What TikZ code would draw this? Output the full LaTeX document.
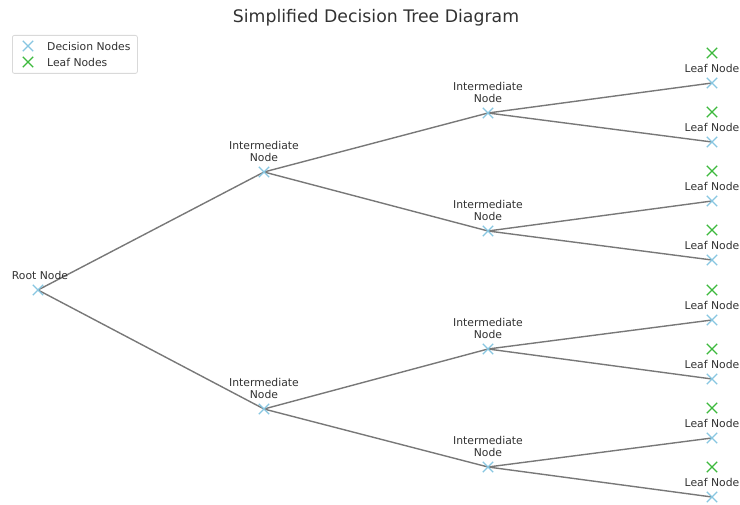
\documentclass[tikz,border=0pt]{standalone}
\usepackage{fontspec}
\setmainfont{DejaVu Sans}
\usetikzlibrary{shapes.misc,calc}
\definecolor{decblue}{RGB}{135,198,225}
\definecolor{leafgreen}{RGB}{60,185,60}
\definecolor{edgegray}{RGB}{120,120,120}
\definecolor{txtgray}{RGB}{50,50,50}
\tikzset{
  decx/.style={cross out, draw=decblue, line width=1.3pt, minimum size=9pt, inner sep=0pt},
  leafx/.style={cross out, draw=leafgreen, line width=1.3pt, minimum size=9pt, inner sep=0pt},
  edge/.style={draw=edgegray, line width=1.4pt},
  lbl/.style={font=\fontsize{10.8}{12.5}\selectfont, text=txtgray, align=center, anchor=south, inner sep=0pt}
}
\begin{document}
\begin{tikzpicture}[x=1pt,y=-1pt]
\useasboundingbox (0,0) rectangle (740,505);
% title
\node[font=\fontsize{17.3}{20}\selectfont, text=txtgray] (title) at (376,18) {Simplified Decision Tree Diagram};
% legend
\node[draw=black!15, rounded corners=2pt, line width=0.8pt, minimum width=125pt, minimum height=38pt, anchor=north west, fill=white] (legend) at (12,35) {};
\node[decx] (lgd) at (28,46) {};
\node[leafx] (lgl) at (28,62) {};
\node[lbl, anchor=west] (lgdt) at (47,46) {Decision Nodes};
\node[lbl, anchor=west] (lglt) at (47,62) {Leaf Nodes};
% coordinates of nodes
\coordinate (r) at (38,290);
\coordinate (a) at (264,172);
\coordinate (b) at (264,409);
\coordinate (aa) at (488,113);
\coordinate (ab) at (488,231);
\coordinate (ba) at (488,349);
\coordinate (bb) at (488,467);
\foreach \i/\y in {1/83,2/142,3/201,4/260,5/320,6/379,7/438,8/497}{
  \coordinate (l\i) at (712,\y);
}
% edges
\draw[edge] (r) -- (a);
\draw[edge] (r) -- (b);
\draw[edge] (a) -- (aa);
\draw[edge] (a) -- (ab);
\draw[edge] (b) -- (ba);
\draw[edge] (b) -- (bb);
\draw[edge] (aa) -- (l1);
\draw[edge] (aa) -- (l2);
\draw[edge] (ab) -- (l3);
\draw[edge] (ab) -- (l4);
\draw[edge] (ba) -- (l5);
\draw[edge] (ba) -- (l6);
\draw[edge] (bb) -- (l7);
\draw[edge] (bb) -- (l8);
% markers and labels
\foreach \n in {r,a,b,aa,ab,ba,bb,l1,l2,l3,l4,l5,l6,l7,l8}{
  \node[decx] (m\n) at (\n) {};
}
\node[lbl] (tr) at ($(r)+(2,-10)$) {Root Node};
\foreach \n in {a,b,aa,ab,ba,bb}{
  \node[lbl] (t\n) at ([yshift=10pt]\n) {Intermediate\\Node};
}
\foreach \i in {1,...,8}{
  \node[leafx] (g\i) at ([yshift=30pt]l\i) {};
  \node[lbl] (t\i) at ([yshift=10pt]l\i) {Leaf Node};
}
\end{tikzpicture}
\end{document}
